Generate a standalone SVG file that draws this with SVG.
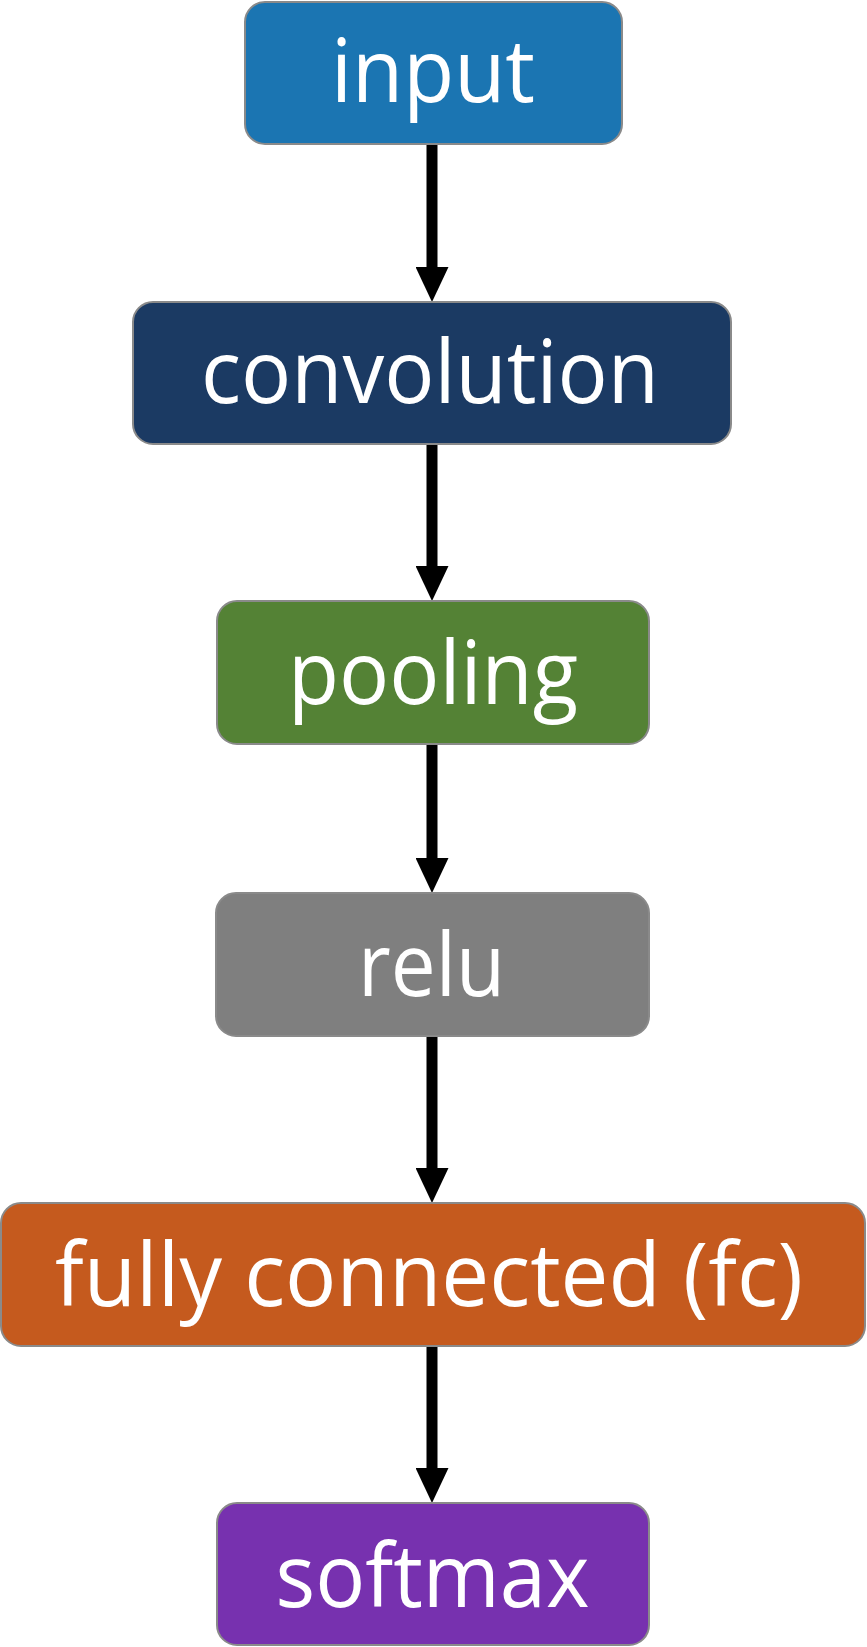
<svg xmlns="http://www.w3.org/2000/svg" width="867" height="1647" viewBox="0 0 867 1647">
  <style>
    .box { stroke: #8a8a8a; stroke-width: 2; }
    .lbl { font-family: "Open Sans", "Liberation Sans", sans-serif; font-size: 88px; fill: #ffffff; text-anchor: middle; }
    .conn { stroke: #000000; stroke-width: 11; fill: none; }
  </style>
  <defs>
    <marker id="head" markerUnits="userSpaceOnUse" viewBox="0 -16.5 35 33" refX="0" refY="0" markerWidth="35" markerHeight="33" orient="auto">
      <path d="M0,-16.5 L35,0 L0,16.5 z" fill="#000000"/>
    </marker>
  </defs>
  <rect width="867" height="1647" fill="#ffffff"/>
  <g id="connectors">
    <line class="conn" x1="432" y1="140" x2="432" y2="267" marker-end="url(#head)"/>
    <line class="conn" x1="432" y1="440" x2="432" y2="566" marker-end="url(#head)"/>
    <line class="conn" x1="432" y1="740" x2="432" y2="858" marker-end="url(#head)"/>
    <line class="conn" x1="432" y1="1032" x2="432" y2="1168" marker-end="url(#head)"/>
    <line class="conn" x1="432" y1="1342" x2="432" y2="1468" marker-end="url(#head)"/>
  </g>
  <g id="input">
    <rect class="box" x="245" y="2" width="377" height="142" rx="20" fill="#1B75B2"/>
    <text class="lbl" x="433" y="102" textLength="204" lengthAdjust="spacingAndGlyphs">input</text>
  </g>
  <g id="convolution">
    <rect class="box" x="133" y="302" width="598" height="142" rx="20" fill="#1B3A63"/>
    <text class="lbl" x="430" y="403" textLength="458" lengthAdjust="spacingAndGlyphs">convolution</text>
  </g>
  <g id="pooling">
    <rect class="box" x="217" y="601" width="432" height="143" rx="20" fill="#548235"/>
    <text class="lbl" x="433" y="704" textLength="290" lengthAdjust="spacingAndGlyphs">pooling</text>
  </g>
  <g id="relu">
    <rect class="box" x="216" y="893" width="433" height="143" rx="20" fill="#7F7F7F"/>
    <text class="lbl" x="431.5" y="996" textLength="147" lengthAdjust="spacingAndGlyphs">relu</text>
  </g>
  <g id="fc">
    <rect class="box" x="1" y="1203" width="864" height="143" rx="20" fill="#C55A1E"/>
    <text class="lbl" x="429" y="1306" textLength="748" lengthAdjust="spacingAndGlyphs">fully connected (fc)</text>
  </g>
  <g id="softmax">
    <rect class="box" x="217" y="1503" width="432" height="142" rx="20" fill="#7731AF"/>
    <text class="lbl" x="432.5" y="1607" textLength="314" lengthAdjust="spacingAndGlyphs">softmax</text>
  </g>
</svg>
